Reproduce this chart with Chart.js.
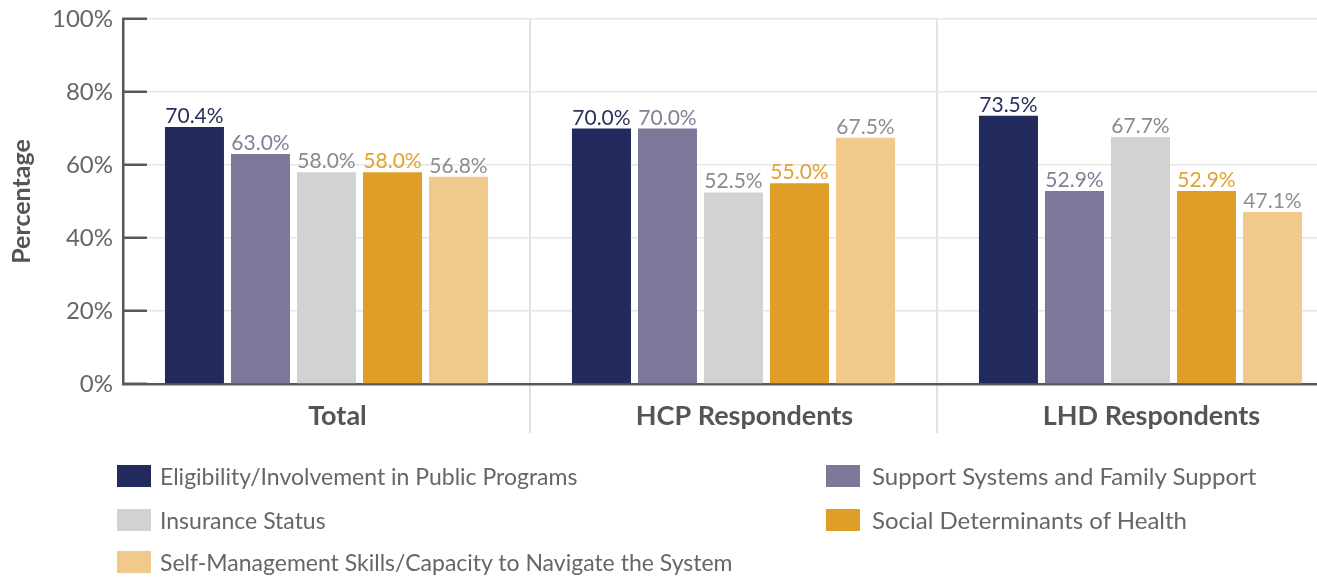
<!DOCTYPE html>
<html>
<head>
<meta charset="utf-8">
<script src="https://cdn.jsdelivr.net/npm/chart.js@4/dist/chart.umd.min.js"></script>
<style>
  html, body { margin: 0; padding: 0; background: #fff; overflow: hidden; width: 1317px; height: 578px; }
  #wrap { position: absolute; left: 0; top: 0; width: 1317px; height: 445px; overflow: hidden; }
  #legend { position: absolute; left: 0; top: 0; width: 1317px; height: 578px; pointer-events: none;
            font-family: Lato, "Open Sans", sans-serif; font-size: 23px; color: #666; }
  .item { position: absolute; height: 24px; line-height: 24px; white-space: nowrap; }
  .sw { position: absolute; left: 0; top: 1px; width: 34px; height: 22px; }
  .tx { position: absolute; left: 43px; top: 0; }
  .right .tx { left: 46px; font-size: 24px; }
</style>
</head>
<body>
<div id="wrap"><canvas id="c" width="1344" height="445"></canvas></div>
<div id="legend"></div>
<script>
const categories = ["Total", "HCP Respondents", "LHD Respondents"];
const seriesNames = [
  "Eligibility/Involvement in Public Programs",
  "Support Systems and Family Support",
  "Insurance Status",
  "Social Determinants of Health",
  "Self-Management Skills/Capacity to Navigate the System"
];
const eligibility = [70.4, 70.0, 73.5];
const supportSystems = [63.0, 70.0, 52.9];
const insurance = [58.0, 52.5, 67.7];
const socialDeterminants = [58.0, 55.0, 52.9];
const selfManagement = [56.8, 67.5, 47.1];
const yTicks = [0, 20, 40, 60, 80, 100];

const barColors = ["#232a5e", "#7b7899", "#d1d2d4", "#df9e27", "#efca8c"];
const labelColors = ["#2a2f5e", "#80809a", "#8a8a8e", "#e0a232", "#8e8e92"];
const seriesValues = [eligibility, supportSystems, insurance, socialDeterminants, selfManagement];

const datasets = seriesValues.map((vals, i) => ({
  label: seriesNames[i],
  data: vals,
  backgroundColor: barColors[i],
  borderWidth: 0,
  categoryPercentage: 0.811,
  barPercentage: 0.894
}));

const valueLabels = {
  id: 'valueLabels',
  afterDatasetsDraw(chart) {
    const ctx = chart.ctx;
    ctx.save();
    ctx.font = '21px Lato, "Open Sans", sans-serif';
    ctx.textAlign = 'center';
    ctx.textBaseline = 'alphabetic';
    chart.data.datasets.forEach((ds, di) => {
      const meta = chart.getDatasetMeta(di);
      meta.data.forEach((bar, idx) => {
        ctx.fillStyle = labelColors[di];
        ctx.fillText(ds.data[idx].toFixed(1) + '%', bar.x, bar.y - 4);
      });
    });
    ctx.restore();
  }
};

const sepColor = (c) => c.index === 0 ? 'rgba(0,0,0,0)' : '#e2e2e2';

new Chart(document.getElementById('c'), {
  type: 'bar',
  data: { labels: categories, datasets },
  options: {
    responsive: false,
    animation: false,
    layout: { padding: { left: 0, right: 0, top: 19, bottom: 0 } },
    plugins: { legend: { display: false }, tooltip: { enabled: false } },
    scales: {
      x: {
        z: 1,
        grid: { offset: true, color: sepColor, tickColor: sepColor, lineWidth: 2, tickWidth: 2, tickLength: 49, drawTicks: true },
        border: { display: true, color: '#58585a', width: 2.5 },
        ticks: { font: { family: 'Lato', size: 27, weight: 'bold' }, color: '#555', padding: -33, labelOffset: 11, maxRotation: 0 },
        afterFit(s) { s.height = 61; s.paddingLeft = 0; s.paddingRight = 0; }
      },
      y: {
        min: 0, max: 100,
        afterBuildTicks(s) { s.ticks = yTicks.map(v => ({ value: v })); },
        grid: { color: '#e6e6e6', lineWidth: 1.5, tickColor: '#58585a', tickWidth: 2.5, tickLength: -24, drawTicks: true },
        border: { display: true, color: '#58585a', width: 2.5 },
        ticks: { font: { family: 'Lato', size: 24 }, color: '#666', padding: 34, callback: v => v + '%' },
        title: { display: true, text: 'Percentage', font: { family: 'Lato', size: 25, weight: 'bold' }, color: '#555', padding: { top: 7, bottom: 0 } },
        afterFit(s) { s.width = 123; s.paddingTop = 0; s.paddingBottom = 0; }
      }
    }
  },
  plugins: [valueLabels]
});

// HTML legend built from the series arrays (two columns, row-major)
const legend = document.getElementById('legend');
const colX = [117, 826];
const rowY = [464, 508, 550];
seriesNames.forEach((name, i) => {
  const el = document.createElement('div');
  el.className = 'item' + (i % 2 ? ' right' : '');
  el.style.left = colX[i % 2] + 'px';
  el.style.top = rowY[Math.floor(i / 2)] + 'px';
  el.innerHTML = '<span class="sw" style="background:' + barColors[i] + '"></span><span class="tx"></span>';
  el.querySelector('.tx').textContent = name;
  legend.appendChild(el);
});
</script>
</body>
</html>
